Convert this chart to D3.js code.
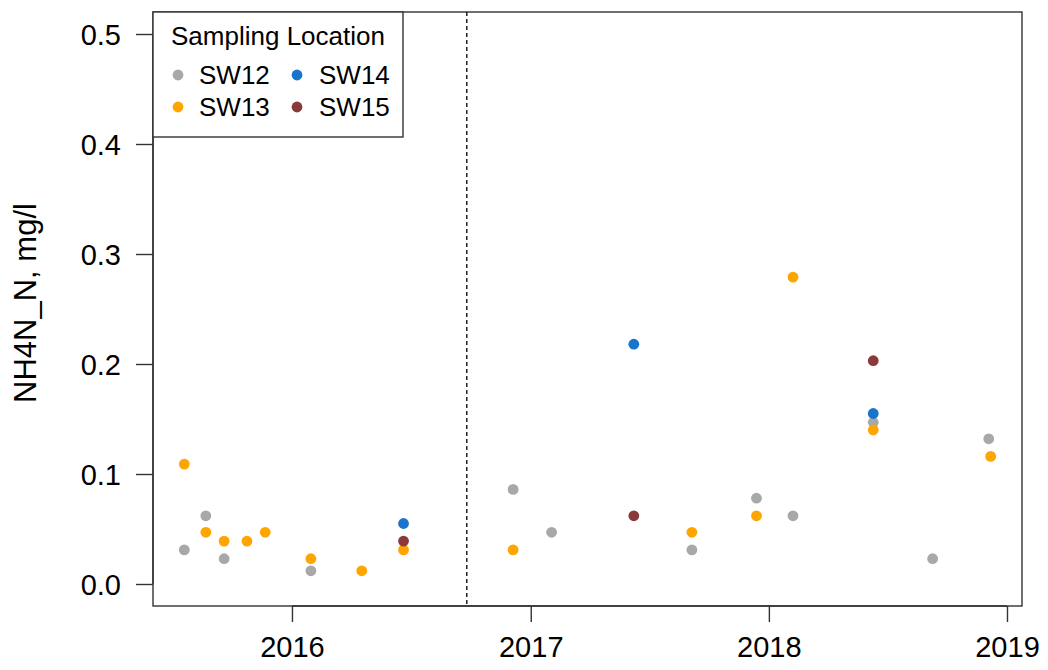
<!DOCTYPE html>
<html>
<head>
<meta charset="utf-8">
<script src="https://cdn.jsdelivr.net/npm/d3@7"></script>
<style>
  html, body { margin: 0; padding: 0; background: #fff; }
  svg { display: block; font-family: "Liberation Sans", Arial, sans-serif; }
</style>
</head>
<body>
<svg id="chart" width="1048" height="670"></svg>
<script>
// Sampling locations and their sample dates / NH4-N concentrations (mg/l)
const locations = ["SW12", "SW13", "SW14", "SW15"];

const sw12Dates  = ["2015-07-20", "2015-08-22", "2015-09-19", "2016-01-30", "2016-12-05", "2017-02-02",
                    "2017-09-05", "2017-12-13", "2018-02-07", "2018-06-10", "2018-09-09", "2018-12-04"];
const sw12Values = [0.031, 0.062, 0.023, 0.012, 0.086, 0.047,
                    0.031, 0.078, 0.062, 0.147, 0.023, 0.132];

const sw13Dates  = ["2015-07-20", "2015-08-22", "2015-09-19", "2015-10-24", "2015-11-21", "2016-01-30",
                    "2016-04-17", "2016-06-20", "2016-12-05", "2017-09-05", "2017-12-13", "2018-02-07",
                    "2018-06-10", "2018-12-07"];
const sw13Values = [0.109, 0.047, 0.039, 0.039, 0.047, 0.023,
                    0.012, 0.031, 0.031, 0.047, 0.062, 0.279,
                    0.140, 0.116];

const sw14Dates  = ["2016-06-20", "2017-06-08", "2018-06-10"];
const sw14Values = [0.055, 0.218, 0.155];

const sw15Dates  = ["2016-06-20", "2017-06-08", "2018-06-10"];
const sw15Values = [0.039, 0.062, 0.203];

const yTicks = [0.0, 0.1, 0.2, 0.3, 0.4, 0.5];
const xTickYears = ["2016", "2017", "2018", "2019"];
const markerDate = "2016-09-25";

const colors = {SW12: "#a8a8a8", SW13: "#ffa500", SW14: "#1874cd", SW15: "#8b3a3a"};

const series = [
  {name: "SW12", dates: sw12Dates, values: sw12Values},
  {name: "SW13", dates: sw13Dates, values: sw13Values},
  {name: "SW14", dates: sw14Dates, values: sw14Values},
  {name: "SW15", dates: sw15Dates, values: sw15Values}
];

const parse = d3.utcParse("%Y-%m-%d");
const svg = d3.select("#chart");

const plot = {left: 153, right: 1022, top: 12, bottom: 606};

const x = d3.scaleUtc()
  .domain([parse("2015-06-02"), parse("2019-01-24")])
  .range([plot.left, plot.right]);

const y = d3.scaleLinear()
  .domain([-0.02, 0.52])
  .range([plot.bottom, plot.top]);

const axisColor = "#333";
const dotR = 5.4;

// y axis
const yAxis = svg.append("g")
  .attr("transform", `translate(${plot.left},0)`)
  .call(d3.axisLeft(y).tickValues(yTicks).tickFormat(d3.format(".1f")).tickSize(17).tickPadding(15));
yAxis.select(".domain").remove();
yAxis.append("line")
  .attr("x1", 0).attr("x2", 0)
  .attr("y1", y(yTicks[0])).attr("y2", y(yTicks[yTicks.length - 1]));
yAxis.selectAll("line").attr("stroke", axisColor).attr("stroke-width", 1.4);
yAxis.selectAll("text")
  .attr("fill", "#000")
  .style("font-size", "29px")
  .attr("dy", "0.36em");

// x axis
const xTickDates = xTickYears.map(s => parse(s + "-01-01"));
const xAxis = svg.append("g")
  .attr("transform", `translate(0,${plot.bottom})`)
  .call(d3.axisBottom(x).tickValues(xTickDates).tickFormat(d3.utcFormat("%Y")).tickSize(16).tickPadding(14));
xAxis.select(".domain").remove();
xAxis.append("line")
  .attr("x1", x(xTickDates[0])).attr("x2", x(xTickDates[xTickDates.length - 1]))
  .attr("y1", 0).attr("y2", 0);
xAxis.selectAll("line").attr("stroke", axisColor).attr("stroke-width", 1.4);
xAxis.selectAll("text")
  .attr("fill", "#000")
  .style("font-size", "29px")
  .attr("dy", "0.71em");

// plot frame
svg.append("rect")
  .attr("x", plot.left).attr("y", plot.top)
  .attr("width", plot.right - plot.left).attr("height", plot.bottom - plot.top)
  .attr("fill", "none").attr("stroke", axisColor).attr("stroke-width", 1.4);

// y axis title
svg.append("text")
  .attr("transform", "translate(36,303) rotate(-90)")
  .attr("text-anchor", "middle")
  .style("font-size", "31px")
  .attr("fill", "#000")
  .text("NH4N_N, mg/l");

// vertical dashed marker
svg.append("line")
  .attr("x1", x(parse(markerDate))).attr("x2", x(parse(markerDate)))
  .attr("y1", plot.top).attr("y2", plot.bottom)
  .attr("stroke", "#000").attr("stroke-width", 1.3)
  .attr("stroke-dasharray", "4,3");

// points
series.forEach(s => {
  svg.append("g")
    .selectAll("circle")
    .data(s.dates.map((d, i) => ({date: parse(d), value: s.values[i]})))
    .join("circle")
    .attr("cx", d => x(d.date))
    .attr("cy", d => y(d.value))
    .attr("r", dotR)
    .attr("fill", colors[s.name]);
});

// legend
const legend = svg.append("g");
legend.append("rect")
  .attr("x", plot.left).attr("y", plot.top)
  .attr("width", 250).attr("height", 125)
  .attr("fill", "#fff").attr("stroke", axisColor).attr("stroke-width", 1.4);
legend.append("text")
  .attr("x", plot.left + 125).attr("y", 45)
  .attr("text-anchor", "middle")
  .style("font-size", "26px")
  .attr("fill", "#000")
  .text("Sampling Location");

const legendPos = [
  {cx: 178, cy: 75, tx: 199},
  {cx: 178, cy: 107, tx: 199},
  {cx: 297, cy: 75, tx: 319},
  {cx: 297, cy: 107, tx: 319}
];
locations.forEach((name, i) => {
  const p = legendPos[i];
  legend.append("circle")
    .attr("cx", p.cx).attr("cy", p.cy).attr("r", dotR)
    .attr("fill", colors[name]);
  legend.append("text")
    .attr("x", p.tx).attr("y", p.cy)
    .attr("dy", "0.36em")
    .style("font-size", "26px")
    .attr("fill", "#000")
    .text(name);
});
</script>
</body>
</html>
